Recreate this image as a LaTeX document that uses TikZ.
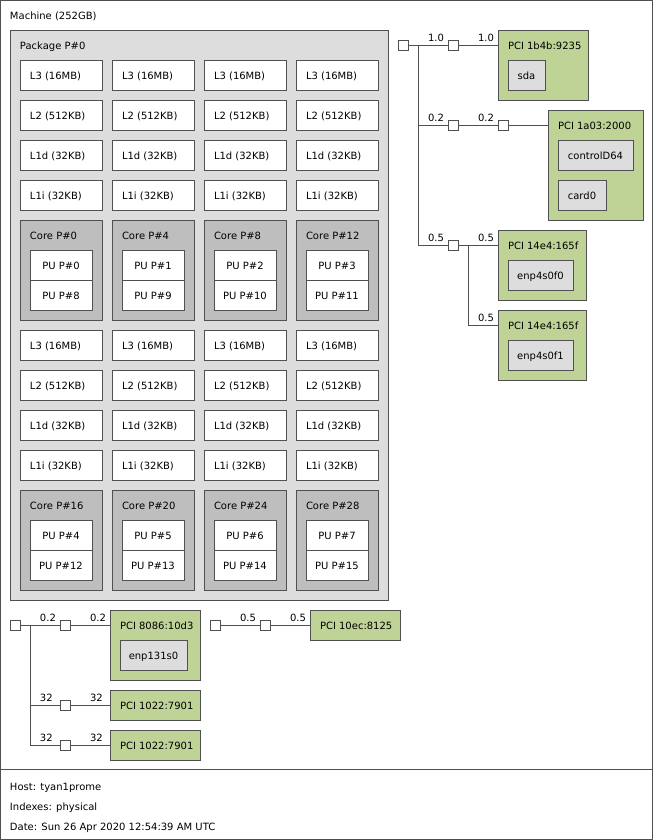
\documentclass[tikz,border=0pt]{standalone}
\usepackage{fontspec}
\setmainfont{DejaVu Sans}
\definecolor{pkg}{HTML}{DDDDDD}
\definecolor{corec}{HTML}{BEBEBE}
\definecolor{pcic}{HTML}{BFD397}
\definecolor{osd}{HTML}{DDDDDD}
\definecolor{ln}{HTML}{505050}
\tikzset{
 x=0.75pt, y=-0.75pt,
 every node/.style={inner sep=0pt, outer sep=0pt, font=\fontsize{7.5pt}{9pt}\selectfont},
 box/.style={draw=ln, line width=0.75pt, rectangle},
 sq/.style={box, fill=white, minimum width=7.5pt, minimum height=7.5pt},
 wire/.style={draw=ln, line width=0.75pt},
 lbl/.style={anchor=base west},
}
\newcommand\bx[6]{\node[box,#6,anchor=north west,minimum width=#4*0.75pt,minimum height=#5*0.75pt] (#1) at (#2,#3) {};}
\newcommand\tl[4]{\node[anchor=base west] (#1) at (#2,#3) {#4};}
\newcommand\tc[4]{\node[anchor=base] (#1) at (#2,#3) {#4};}
\begin{document}
\begin{tikzpicture}
\useasboundingbox (0,0) rectangle (653,840);
% machine and legend
\bx{machine}{0.5}{0.5}{652}{769}{fill=white}
\bx{legend}{0.5}{769.5}{652}{69.5}{fill=white}
\tl{machinet}{10}{19.5}{Machine (252GB)}
\tl{host}{10}{790}{Host: tyan1prome}
\tl{idx}{10}{810}{Indexes: physical}
\tl{date}{10}{830}{Date: Sun 26 Apr 2020 12:54:39 AM UTC}
% package
\bx{package}{10}{30}{378}{570}{fill=pkg}
\tl{packaget}{20}{49.5}{Package P\#0}
\foreach \i/\cx/\ca/\cb/\pa/\pb/\pc/\pd in {0/20/0/16/0/8/4/12, 1/112/4/20/1/9/5/13, 2/204/8/24/2/10/6/14, 3/296/12/28/3/11/7/15}{
  \foreach \g/\off in {a/0, b/270}{
    \bx{l3\g\i}{\cx}{60+\off}{82}{30}{fill=white}
    \tl{l3\g\i t}{\cx+10}{79.5+\off}{L3 (16MB)}
    \bx{l2\g\i}{\cx}{100+\off}{82}{30}{fill=white}
    \tl{l2\g\i t}{\cx+10}{119.5+\off}{L2 (512KB)}
    \bx{l1d\g\i}{\cx}{140+\off}{82}{30}{fill=white}
    \tl{l1d\g\i t}{\cx+10}{159.5+\off}{L1d (32KB)}
    \bx{l1i\g\i}{\cx}{180+\off}{82}{30}{fill=white}
    \tl{l1i\g\i t}{\cx+10}{199.5+\off}{L1i (32KB)}
    \bx{core\g\i}{\cx}{220+\off}{82}{100}{fill=corec}
  }
  \tl{coreat\i}{\cx+10}{239.5}{Core P\#\ca}
  \tl{corebt\i}{\cx+10}{509.5}{Core P\#\cb}
  \bx{pua\i}{\cx+10}{250}{62}{30}{fill=white}
  \tc{puat\i}{\cx+41}{269.5}{PU P\#\pa}
  \bx{pub\i}{\cx+10}{280}{62}{30}{fill=white}
  \tc{pubt\i}{\cx+41}{299.5}{PU P\#\pb}
  \bx{puc\i}{\cx+10}{520}{62}{30}{fill=white}
  \tc{puct\i}{\cx+41}{539.5}{PU P\#\pc}
  \bx{pud\i}{\cx+10}{550}{62}{30}{fill=white}
  \tc{pudt\i}{\cx+41}{569.5}{PU P\#\pd}
}
% right PCI tree
\bx{p1}{498}{30}{90}{70}{fill=pcic}
\tl{p1t}{508}{49.5}{PCI 1b4b:9235}
\bx{sda}{508}{60}{37}{30}{fill=osd}
\tc{sdat}{526.5}{79.5}{sda}
\bx{p2}{548}{110}{95}{110}{fill=pcic}
\tl{p2t}{558}{129.5}{PCI 1a03:2000}
\bx{ctl}{558}{140}{75}{30}{fill=osd}
\tc{ctlt}{595.5}{159.5}{controlD64}
\bx{card}{558}{180}{48}{30}{fill=osd}
\tc{cardt}{582}{199.5}{card0}
\bx{p3}{498}{230}{88}{70}{fill=pcic}
\tl{p3t}{508}{249.5}{PCI 14e4:165f}
\bx{e0}{508}{260}{65}{30}{fill=osd}
\tc{e0t}{540.5}{279.5}{enp4s0f0}
\bx{p4}{498}{310}{88}{70}{fill=pcic}
\tl{p4t}{508}{329.5}{PCI 14e4:165f}
\bx{e1}{508}{340}{65}{30}{fill=osd}
\tc{e1t}{540.5}{359.5}{enp4s0f1}
\node[sq] (s1) at (403,45) {};
\node[sq] (s2) at (453,45) {};
\node[sq] (s3) at (453,125) {};
\node[sq] (s4) at (503,125) {};
\node[sq] (s5) at (453,245) {};
\coordinate (b1) at (418,45);
\coordinate (b2) at (468,245);
\draw[wire] (s1) -- (s2);
\draw[wire] (s2) -- (s2 -| p1.west);
\draw[wire] (b1) |- (s3);
\draw[wire] (s3) -- (s4);
\draw[wire] (s4) -- (s4 -| p2.west);
\draw[wire] (b1) |- (s5);
\draw[wire] (s5) -- (s5 -| p3.west);
\draw[wire] (b2) |- (p4.west |- 0,325);
\node[lbl] (la1) at (428,41) {1.0};
\node[lbl] (la2) at (478,41) {1.0};
\node[lbl] (la3) at (428,121) {0.2};
\node[lbl] (la4) at (478,121) {0.2};
\node[lbl] (la5) at (428,241) {0.5};
\node[lbl] (la6) at (478,241) {0.5};
\node[lbl] (la7) at (478,321) {0.5};
% bottom PCI trees
\bx{p5}{110}{610}{90}{70}{fill=pcic}
\tl{p5t}{120}{629.5}{PCI 8086:10d3}
\bx{enp}{120}{640}{67}{30}{fill=osd}
\tc{enpt}{153.5}{659.5}{enp131s0}
\bx{p6}{110}{690}{90}{30}{fill=pcic}
\tl{p6t}{120}{709.5}{PCI 1022:7901}
\bx{p7}{110}{730}{90}{30}{fill=pcic}
\tl{p7t}{120}{749.5}{PCI 1022:7901}
\bx{p8}{310}{610}{90}{30}{fill=pcic}
\tl{p8t}{320}{629.5}{PCI 10ec:8125}
\node[sq] (t1) at (15,625) {};
\node[sq] (t2) at (65,625) {};
\node[sq] (t3) at (65,705) {};
\node[sq] (t4) at (65,745) {};
\node[sq] (u1) at (215,625) {};
\node[sq] (u2) at (265,625) {};
\coordinate (b3) at (30,625);
\draw[wire] (t1) -- (t2);
\draw[wire] (t2) -- (t2 -| p5.west);
\draw[wire] (b3) |- (t3);
\draw[wire] (t3) -- (t3 -| p6.west);
\draw[wire] (b3) |- (t4);
\draw[wire] (t4) -- (t4 -| p7.west);
\draw[wire] (u1) -- (u2);
\draw[wire] (u2) -- (u2 -| p8.west);
\node[lbl] (lb1) at (40,621) {0.2};
\node[lbl] (lb2) at (90,621) {0.2};
\node[lbl] (lb3) at (40,701) {32};
\node[lbl] (lb4) at (90,701) {32};
\node[lbl] (lb5) at (40,741) {32};
\node[lbl] (lb6) at (90,741) {32};
\node[lbl] (lb7) at (240,621) {0.5};
\node[lbl] (lb8) at (290,621) {0.5};
\end{tikzpicture}
\end{document}
